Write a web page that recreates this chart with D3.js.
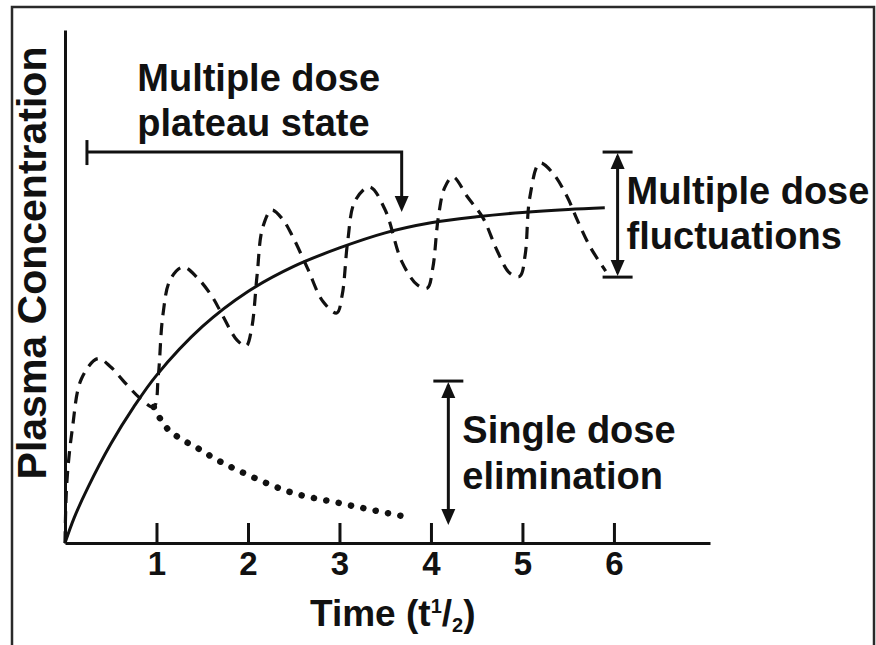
<!DOCTYPE html>
<html>
<head>
<meta charset="utf-8">
<script src="https://cdn.jsdelivr.net/npm/d3@7"></script>
<style>
  body { margin: 0; background: #fff; }
  text { font-family: "Liberation Sans", Arial, Helvetica, sans-serif; font-weight: bold; fill: #111; }
</style>
</head>
<body>
<script>
// time in half-lives, concentration in % of plateau
var accumulation = [
  [0, 0], [0.1, 7.5], [0.25, 16.5], [0.5, 29.5], [0.75, 40.5], [1, 50],
  [1.5, 64.5], [2, 75], [2.5, 82.5], [3, 88], [3.5, 92.5],
  [4, 95.5], [4.5, 97.3], [5, 98.6], [5.5, 99.5], [5.9, 100]
];

var multipleDose = [
  [0, 0], [0.02, 18], [0.08, 34], [0.18, 49], [0.36, 55], [0.5, 52.5], [0.63, 48.6], [0.82, 43.2], [0.97, 40.6],
  [1.02, 50], [1.07, 68], [1.15, 78.5], [1.29, 82.3], [1.45, 79], [1.61, 73.4], [1.72, 68], [1.88, 60.5], [1.98, 58.8],
  [2.04, 64], [2.1, 80], [2.16, 94], [2.26, 99.3], [2.38, 96.5], [2.49, 91.3], [2.65, 82], [2.82, 72], [2.97, 68.6],
  [3.03, 74], [3.09, 90], [3.17, 102], [3.33, 106.2], [3.5, 99.3], [3.68, 84], [3.85, 77], [3.96, 76],
  [4.02, 82], [4.08, 97], [4.15, 106], [4.24, 109.2], [4.4, 103.2], [4.57, 96.9], [4.72, 87.4], [4.86, 80.5], [4.97, 79.5],
  [5.03, 86], [5.08, 103], [5.19, 113.3], [5.33, 110.4], [5.49, 103.2], [5.6, 96.3], [5.74, 88.3], [5.91, 81.1]
];

var singleDoseTail = [
  [0.97, 40.6], [1.07, 35.8], [1.31, 30.4], [1.45, 28.3], [1.61, 25.6], [2.0, 20.3],
  [2.46, 15.2], [3.0, 11.9], [3.4, 9.6], [3.73, 7.8]
];

var xTicks = [1, 2, 3, 4, 5, 6];

var width = 876, height = 645;

var svg = d3.select("body").append("svg")
    .attr("width", width)
    .attr("height", height);

// frame round the figure
svg.append("rect")
    .attr("x", 12).attr("y", 7)
    .attr("width", 862).attr("height", 700)
    .attr("fill", "none")
    .attr("stroke", "#2a2a2a")
    .attr("stroke-width", 2.5);

var x = d3.scaleLinear().domain([0, 7.05]).range([65, 710]);
var y = d3.scaleLinear().domain([0, 153]).range([543, 30]);

// axes
var xAxis = svg.append("g")
    .attr("transform", "translate(0," + y(0) + ")")
    .call(d3.axisBottom(x).tickValues(xTicks).tickFormat(d3.format("d"))
      .tickSizeInner(-20).tickSizeOuter(0).tickPadding(9));
xAxis.select(".domain").attr("stroke", "#111").attr("stroke-width", 3);
xAxis.selectAll(".tick line").attr("stroke", "#111").attr("stroke-width", 3);
xAxis.selectAll(".tick text")
    .attr("fill", "#111")
    .style("font-family", "'Liberation Sans', Arial, sans-serif")
    .style("font-weight", "bold")
    .style("font-size", "33px");

var yAxis = svg.append("g")
    .attr("transform", "translate(" + x(0) + ",0)")
    .call(d3.axisLeft(y).tickValues([]).tickSizeOuter(0));
yAxis.select(".domain").attr("stroke", "#111").attr("stroke-width", 3);

// curves
var line = d3.line()
    .x(function(d) { return x(d[0]); })
    .y(function(d) { return y(d[1]); });

svg.append("path")
    .datum(accumulation)
    .attr("d", line.curve(d3.curveCatmullRom.alpha(0.5)))
    .attr("fill", "none")
    .attr("stroke", "#111")
    .attr("stroke-width", 3);

svg.append("path")
    .datum(multipleDose)
    .attr("d", line.curve(d3.curveCatmullRom.alpha(0.5)))
    .attr("fill", "none")
    .attr("stroke", "#111")
    .attr("stroke-width", 3.2)
    .attr("stroke-dasharray", "12,8");

svg.append("path")
    .datum(singleDoseTail)
    .attr("d", line.curve(d3.curveMonotoneX))
    .attr("fill", "none")
    .attr("stroke", "#111")
    .attr("stroke-width", 6.5)
    .attr("stroke-linecap", "round")
    .attr("stroke-dasharray", "0.1,12.5");

// annotation helpers
function arrowHead(px, py, dir) {
  // dir: -1 points up, 1 points down
  var w = 7, l = 16;
  svg.append("path")
    .attr("d", "M" + px + "," + py + "L" + (px - w) + "," + (py - dir * l) +
               "L" + (px + w) + "," + (py - dir * l) + "Z")
    .attr("fill", "#111");
}

function bar(px, py, half) {
  svg.append("line")
    .attr("x1", px - half).attr("x2", px + half)
    .attr("y1", py).attr("y2", py)
    .attr("stroke", "#111").attr("stroke-width", 3);
}

function vline(px, y1, y2) {
  svg.append("line")
    .attr("x1", px).attr("x2", px)
    .attr("y1", y1).attr("y2", y2)
    .attr("stroke", "#111").attr("stroke-width", 3);
}

function label(px, py, lines, size, gap) {
  var t = svg.append("text")
    .attr("x", px).attr("y", py)
    .style("font-size", size + "px");
  lines.forEach(function(s, i) {
    t.append("tspan").attr("x", px).attr("dy", i === 0 ? 0 : gap).text(s);
  });
}

// multiple dose plateau state
var plateauY = y(116.6);
vline(x(0.24), plateauY - 12, plateauY + 13);
svg.append("path")
    .attr("d", "M" + x(0.24) + "," + plateauY + "H" + x(3.68) + "V" + (y(98.7) - 14))
    .attr("fill", "none").attr("stroke", "#111").attr("stroke-width", 3);
arrowHead(x(3.68), y(98.7), 1);
label(x(0.79), 91, ["Multiple dose", "plateau state"], 38, 45);

// multiple dose fluctuations
var fx = x(6.04);
bar(fx, y(116.6), 15);
bar(fx, y(79.3), 15);
vline(fx, y(116.6) + 4, y(79.3) - 4);
arrowHead(fx, y(116.6) + 1, -1);
arrowHead(fx, y(79.3) - 1, 1);
label(fx + 9, 204, ["Multiple dose", "fluctuations"], 38, 45);

// single dose elimination
var sx = x(4.19);
bar(sx, y(48.3), 15);
vline(sx, y(48.3) + 4, y(5.4) - 4);
arrowHead(sx, y(48.3) + 1, -1);
arrowHead(sx, y(5.4), 1);
label(sx + 14, 443, ["Single dose", "elimination"], 38, 46);

// axis titles
var xt = svg.append("text")
    .attr("x", 310).attr("y", 626)
    .style("font-size", "37px");
xt.append("tspan").text("Time (t");
xt.append("tspan").attr("dy", -13).style("font-size", "20px").text("1");
xt.append("tspan").attr("dy", 13).text("/");
xt.append("tspan").attr("dy", 6).style("font-size", "20px").text("2");
xt.append("tspan").attr("dy", -6).text(")");

svg.append("text")
    .attr("transform", "translate(46,263) rotate(-90)")
    .attr("text-anchor", "middle")
    .style("font-size", "41px")
    .text("Plasma Concentration");
</script>
</body>
</html>
